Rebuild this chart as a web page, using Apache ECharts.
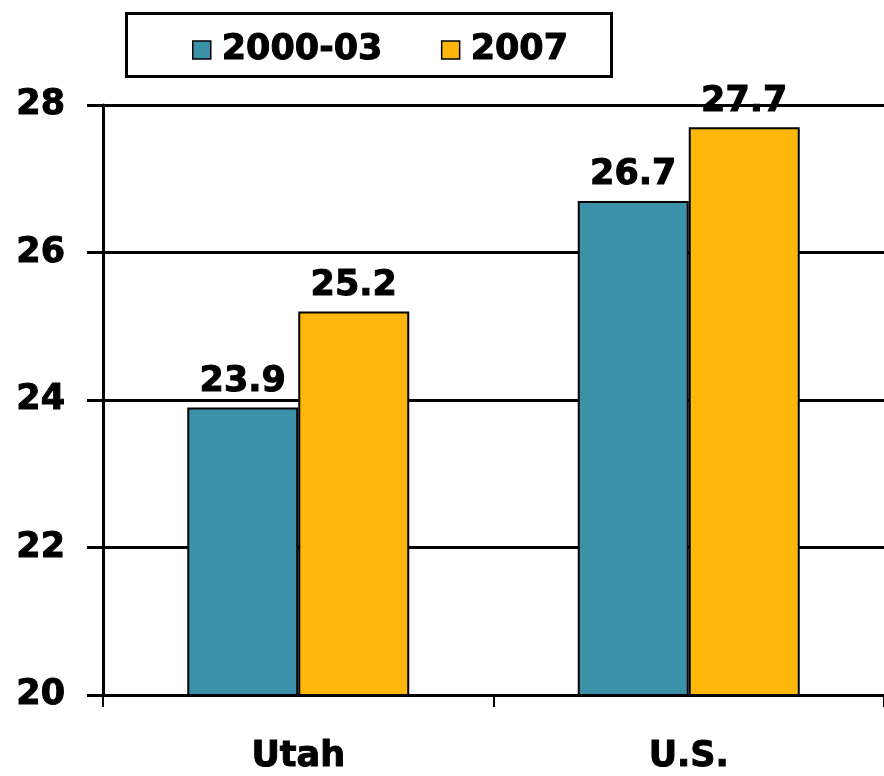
<!DOCTYPE html>
<html><head><meta charset="utf-8">
<script src="https://cdn.jsdelivr.net/npm/echarts@6/dist/echarts.min.js"></script>
<style>html,body{margin:0;padding:0;background:#fff}#c{width:884px;height:776px}</style>
</head><body><div id="c"></div>
<script>
const categories = ['Utah', 'U.S.'];
const seriesNames = ['2000-03', '2007'];
const values2000_03 = [23.9, 26.7];
const values2007 = [25.2, 27.7];
const colors = ['#3A91A8', '#FFB70B'];
const FONT = '"DejaVu Sans", Verdana, sans-serif';
const FS = 35;
const heavy = {fontFamily: FONT, fontWeight: 'bold', fontSize: FS, color: '#000', textBorderColor: '#000', textBorderWidth: 1};

const chart = echarts.init(document.getElementById('c'));
const lbl = Object.assign({show: true, position: 'top', distance: 8, formatter: p => p.value.toFixed(1)}, heavy);
chart.setOption({
  animation: false,
  graphic: [{type: 'rect', shape: {x: 126.5, y: 13.5, width: 485, height: 63}, style: {fill: '#fff', stroke: '#000', lineWidth: 3}, z: 0}],
  legend: {
    top: 32, left: 192,
    padding: 0,
    itemGap: 58,
    itemWidth: 18, itemHeight: 18, icon: 'rect',
    itemStyle: {borderColor: '#000', borderWidth: 1.5},
    textStyle: Object.assign({padding: [0, 0, 0, 6]}, heavy),
    data: seriesNames, z: 5
  },
  grid: {left: 103, right: 0, top: 105, bottom: 81},
  xAxis: {
    type: 'category', data: categories,
    axisLine: {lineStyle: {color: '#000', width: 3}},
    axisTick: {show: true, length: 12, lineStyle: {color: '#000', width: 2}},
    axisLabel: Object.assign({margin: 44}, heavy)
  },
  yAxis: {
    type: 'value', min: 20, max: 28, interval: 2,
    axisLine: {show: true, lineStyle: {color: '#000', width: 3}},
    axisTick: {show: true, length: 16, lineStyle: {color: '#000', width: 3}},
    splitLine: {lineStyle: {color: '#000', width: 3}},
    axisLabel: Object.assign({margin: 38}, heavy)
  },
  series: [
    {name: seriesNames[0], type: 'bar', data: values2000_03, barWidth: 111, barGap: '0%',
     itemStyle: {color: colors[0], borderColor: '#000', borderWidth: 2}, label: lbl},
    {name: seriesNames[1], type: 'bar', data: values2007, barWidth: 111,
     itemStyle: {color: colors[1], borderColor: '#000', borderWidth: 2}, label: lbl}
  ]
});
</script></body></html>
